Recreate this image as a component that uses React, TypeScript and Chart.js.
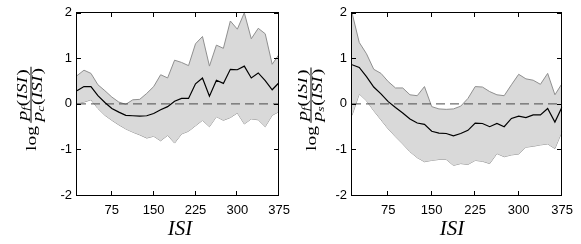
import React, { useEffect, useRef } from 'react';
import { Chart, registerables } from 'chart.js';

Chart.register(...registerables);

// ISI bin centres (ms)
const isi = [12.5, 25, 37.5, 50, 62.5, 75, 87.5, 100, 112.5, 125, 137.5, 150, 162.5, 175, 187.5, 200, 212.5, 225, 237.5, 250, 262.5, 275, 287.5, 300, 312.5, 325, 337.5, 350, 362.5, 375];

// Left panel: log p_f / p_c
const leftUpper = [0.62, 0.74, 0.67, 0.42, 0.29, 0.15, 0.04, -0.01, 0.09, 0.1, 0.23, 0.38, 0.64, 0.57, 0.96, 0.91, 0.84, 1.32, 1.48, 0.83, 1.29, 1.22, 1.82, 1.64, 2.0, 1.43, 1.66, 1.54, 0.87, 1.09];
const leftMean = [0.29, 0.38, 0.38, 0.18, 0.03, -0.1, -0.18, -0.25, -0.26, -0.27, -0.26, -0.21, -0.13, -0.06, 0.06, 0.12, 0.12, 0.44, 0.57, 0.17, 0.52, 0.45, 0.76, 0.75, 0.83, 0.57, 0.68, 0.51, 0.31, 0.47];
const leftLower = [0.01, 0.04, 0.09, -0.1, -0.25, -0.36, -0.46, -0.55, -0.62, -0.68, -0.75, -0.71, -0.81, -0.69, -0.86, -0.66, -0.6, -0.48, -0.36, -0.5, -0.28, -0.36, -0.3, -0.2, -0.44, -0.33, -0.35, -0.5, -0.25, -0.17];

// Right panel: log p_f / p_s
const rightUpper = [2.0, 1.35, 1.1, 0.76, 0.67, 0.49, 0.35, 0.35, 0.2, 0.18, 0.38, -0.06, -0.11, -0.12, -0.11, -0.05, 0.12, 0.38, 0.37, 0.27, 0.2, 0.18, 0.42, 0.65, 0.55, 0.52, 0.43, 0.67, 0.2, 0.45];
const rightMean = [0.86, 0.8, 0.6, 0.37, 0.22, 0.05, -0.08, -0.2, -0.33, -0.42, -0.45, -0.6, -0.64, -0.65, -0.7, -0.65, -0.58, -0.42, -0.43, -0.5, -0.43, -0.5, -0.32, -0.27, -0.3, -0.24, -0.24, -0.1, -0.4, -0.06];
const rightLower = [-0.25, 0.22, 0.07, -0.15, -0.35, -0.55, -0.72, -0.88, -1.05, -1.18, -1.27, -1.24, -1.22, -1.22, -1.35, -1.31, -1.33, -1.24, -1.26, -1.31, -1.09, -1.16, -1.12, -1.1, -0.95, -0.93, -0.9, -0.88, -0.98, -0.6];

const xTicks = [75, 150, 225, 300, 375];
const yTicks = [-2, -1, 0, 1, 2];
const xMin = 12.5;
const xMax = 375;
const yMin = -2;
const yMax = 2;
const refX = [12.5, 375];
const refY = [0, 0];

const xTitle = 'ISI';
const yLog = 'log';
const yNumSub = 'f';
const leftDenSub = 'c';
const rightDenSub = 's';

type PanelSpec = {
  offsetX: number;
  width: number;
  yWidth: number;
  padRight: number;
  upper: number[];
  mean: number[];
  lower: number[];
  denSub: string;
  labelX: number;
  labelBottom: number;
  titleX: number;
};

const MATH_SIZE = 15;
const STRETCH = 1.3;
const BAR_OFF = -5;
const SERIF = '"Liberation Serif", "Times New Roman", serif';

function drawPart(ctx: CanvasRenderingContext2D, x: number, y: number, sub: string) {
  let cx = x;
  ctx.font = `italic ${MATH_SIZE}px ${SERIF}`;
  ctx.fillText('p', cx, y);
  cx += ctx.measureText('p').width;
  ctx.font = `italic ${MATH_SIZE * 0.7}px ${SERIF}`;
  ctx.fillText(sub, cx, y + 2.5);
  cx += ctx.measureText(sub).width + 0.5;
  ctx.font = `${MATH_SIZE}px ${SERIF}`;
  ctx.fillText('(', cx, y);
  cx += ctx.measureText('(').width;
  ctx.font = `italic ${MATH_SIZE}px ${SERIF}`;
  ctx.fillText('ISI', cx, y);
  cx += ctx.measureText('ISI').width + 1;
  ctx.font = `${MATH_SIZE}px ${SERIF}`;
  ctx.fillText(')', cx, y);
  cx += ctx.measureText(')').width;
  return cx;
}

function measurePart(ctx: CanvasRenderingContext2D, sub: string) {
  ctx.save();
  let w = 0;
  ctx.font = `italic ${MATH_SIZE}px ${SERIF}`;
  w += ctx.measureText('p').width;
  ctx.font = `italic ${MATH_SIZE * 0.7}px ${SERIF}`;
  w += ctx.measureText(sub).width + 0.5;
  ctx.font = `${MATH_SIZE}px ${SERIF}`;
  w += ctx.measureText('(').width + ctx.measureText(')').width;
  ctx.font = `italic ${MATH_SIZE}px ${SERIF}`;
  w += ctx.measureText('ISI').width + 1;
  ctx.restore();
  return w;
}

function framePlugin(p: PanelSpec) {
  return {
    id: 'frame' + p.offsetX,
    afterDraw(chart: any) {
      const ctx: CanvasRenderingContext2D = chart.ctx;
      const area = chart.chartArea;
      const xs = chart.scales.x;
      const ys = chart.scales.y;
      const L = Math.round(area.left) - 1;
      const R = Math.round(area.right) - 1;
      const T = Math.round(area.top) - 1;
      const B = Math.round(area.bottom);
      ctx.save();
      ctx.setLineDash([]);
      ctx.globalAlpha = 1;
      ctx.fillStyle = '#000000';
      // axes box
      ctx.fillRect(L, T, R - L + 1, 1);
      ctx.fillRect(L, B, R - L + 1, 1);
      ctx.fillRect(L, T, 1, B - T + 1);
      ctx.fillRect(R, T, 1, B - T + 1);
      // inward ticks on all four sides
      xTicks.forEach((v) => {
        const c = Math.round(xs.getPixelForValue(v)) - 1;
        ctx.fillRect(c, B - 4, 1, 4);
        ctx.fillRect(c, T + 1, 1, 4);
      });
      yTicks.forEach((v) => {
        const r = Math.round(ys.getPixelForValue(v));
        ctx.fillRect(L + 1, r, 4, 1);
        ctx.fillRect(R - 4, r, 4, 1);
      });

      // x title
      ctx.font = `italic 21px ${SERIF}`;
      ctx.textAlign = 'center';
      ctx.textBaseline = 'alphabetic';
      ctx.fillText(xTitle, p.titleX, 235);

      // y title: log p_f(ISI) / p_x(ISI), rotated
      ctx.translate(p.labelX, p.labelBottom);
      ctx.rotate(-Math.PI / 2);
      ctx.scale(STRETCH, 1);
      ctx.textAlign = 'left';
      ctx.font = `${MATH_SIZE}px ${SERIF}`;
      ctx.fillText(yLog, 0, 0);
      const wLog = ctx.measureText(yLog).width;
      const start = wLog + 2.5;
      const wn = measurePart(ctx, yNumSub);
      const wd = measurePart(ctx, p.denSub);
      const barLen = Math.max(wn, wd) + 2;
      drawPart(ctx, start + (barLen - wn) / 2, BAR_OFF - 4.5, yNumSub);
      drawPart(ctx, start + (barLen - wd) / 2, BAR_OFF + 10.5, p.denSub);
      ctx.fillRect(start, BAR_OFF - 0.5, barLen, 1);
      ctx.restore();
    },
  };
}

function makeConfig(p: PanelSpec): any {
  const pts = (ys: number[]) => isi.map((x, i) => ({ x, y: ys[i] }));
  const tickFont = { family: '"Liberation Sans", Arial, sans-serif', size: 13 };
  return {
    type: 'line',
    data: {
      datasets: [
        { label: 'mean', data: pts(p.mean), borderColor: '#000', borderWidth: 1.2, pointRadius: 0, fill: false, tension: 0 },
        { label: 'zero', data: refX.map((x, i) => ({ x, y: refY[i] })), borderColor: '#4a4a4a', borderWidth: 1, borderDash: [9, 5], pointRadius: 0, fill: false },
        { label: 'upper', data: pts(p.upper), borderColor: '#8f8f8f', borderWidth: 1, pointRadius: 0, fill: '+1', backgroundColor: '#d9d9d9' },
        { label: 'lower', data: pts(p.lower), borderColor: '#8f8f8f', borderWidth: 1, pointRadius: 0, fill: false },
      ],
    },
    options: {
      animation: false,
      responsive: false,
      events: [],
      layout: { padding: { left: 0, top: 12, right: p.padRight, bottom: 0 } },
      plugins: { legend: { display: false }, tooltip: { enabled: false } },
      scales: {
        x: {
          type: 'linear',
          min: xMin,
          max: xMax,
          afterBuildTicks: (s: any) => { s.ticks = xTicks.map((v) => ({ value: v })); },
          afterFit: (s: any) => { s.height = 49; },
          grid: { display: false, drawTicks: false },
          border: { display: false },
          ticks: { font: tickFont, color: '#000', padding: 8, maxRotation: 0, autoSkip: false },
        },
        y: {
          type: 'linear',
          min: yMin,
          max: yMax,
          afterBuildTicks: (s: any) => { s.ticks = yTicks.map((v) => ({ value: v })); },
          afterFit: (s: any) => { s.width = p.yWidth; },
          grid: { display: false, drawTicks: false },
          border: { display: false },
          ticks: { font: tickFont, color: '#000', padding: 5 },
        },
      },
    },
    plugins: [framePlugin(p)],
  };
}

function Panel({ spec }: { spec: PanelSpec }) {
  const ref = useRef<HTMLCanvasElement | null>(null);
  useEffect(() => {
    if (!ref.current) return;
    const chart = new Chart(ref.current, makeConfig(spec));
    return () => chart.destroy();
  }, [spec]);
  return (
    <canvas
      ref={ref}
      width={spec.width}
      height={244}
      style={{ position: 'absolute', left: spec.offsetX, top: 0, width: spec.width, height: 244 }}
    />
  );
}

const leftSpec: PanelSpec = {
  offsetX: 0, width: 298, yWidth: 77, padRight: 12,
  upper: leftUpper, mean: leftMean, lower: leftLower,
  denSub: leftDenSub, labelX: 36, labelBottom: 151, titleX: 180,
};
const rightSpec: PanelSpec = {
  offsetX: 298, width: 283, yWidth: 54, padRight: 18,
  upper: rightUpper, mean: rightMean, lower: rightLower,
  denSub: rightDenSub, labelX: 18, labelBottom: 151, titleX: 154,
};

export default function App() {
  return (
    <div style={{ position: 'fixed', left: 0, top: 0, width: 581, height: 244, background: '#fff', overflow: 'hidden' }}>
      <Panel spec={leftSpec} />
      <Panel spec={rightSpec} />
    </div>
  );
}
